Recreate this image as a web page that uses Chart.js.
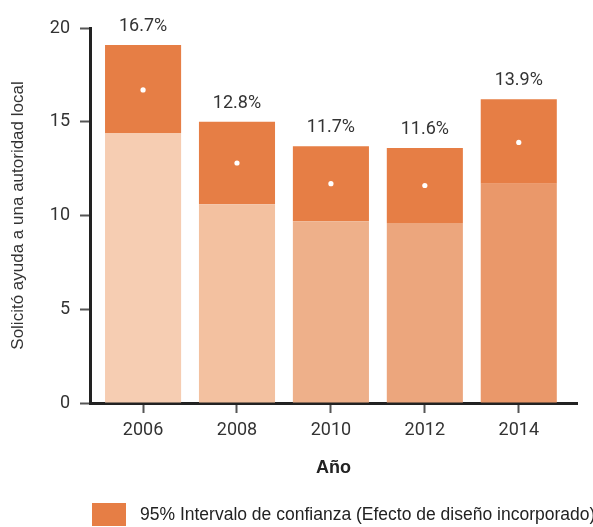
<!DOCTYPE html>
<html>
<head>
<meta charset="utf-8">
<script src="https://cdn.jsdelivr.net/npm/chart.js@4"></script>
<style>
  html, body { margin: 0; padding: 0; background: #fff; }
  #wrap { width: 593px; height: 527px; }
</style>
</head>
<body>
<div id="wrap"><canvas id="askedHelp"></canvas></div>
<script>
// Years and survey values (percent)
const years = [2006, 2008, 2010, 2012, 2014];
const estimate = [16.7, 12.8, 11.7, 11.6, 13.9];
const lowerCI = [14.4, 10.6, 9.7, 9.6, 11.7];
const upperCI = [19.1, 15.0, 13.7, 13.6, 16.2];
const yTicks = [0, 5, 10, 15, 20];

const lowerColors = ['#f6cdb2', '#f3c1a0', '#eeb08a', '#eca67d', '#ea986a'];
const ciColor = '#e67e45';
const tickFont = 'Roboto, "Liberation Sans", sans-serif';
const textColor = '#333333';

// percent labels above the bars + legend under the axis title
const extras = {
	id: 'extras',
	afterDraw(chart) {
		const ctx = chart.ctx;
		const x = chart.scales.x;
		const y = chart.scales.y;
		ctx.save();
		ctx.fillStyle = textColor;
		ctx.font = '18px ' + tickFont;
		ctx.textAlign = 'center';
		ctx.textBaseline = 'alphabetic';
		years.forEach(function (yr, i) {
			ctx.fillText(estimate[i].toFixed(1) + '%', x.getPixelForValue(yr), y.getPixelForValue(upperCI[i]) - 14);
		});
		ctx.fillStyle = ciColor;
		ctx.fillRect(92, 503, 34, 23);
		ctx.fillStyle = '#222';
		ctx.font = '17.5px "Liberation Sans", Arial, sans-serif';
		ctx.textAlign = 'left';
		ctx.fillText('95% Intervalo de confianza (Efecto de diseño incorporado)', 140, 520);
		ctx.restore();
	}
};

document.addEventListener('DOMContentLoaded', function () {
	const ctx = document.getElementById('askedHelp').getContext('2d');
	const askedHelpChart = new Chart(ctx, {
		type: 'bar',
		data: {
			datasets: [{
				type: 'scatter',
				label: 'Estimación',
				data: years.map((yr, i) => ({ x: yr, y: estimate[i] })),
				backgroundColor: '#ffffff',
				borderWidth: 0,
				pointRadius: 2.6,
				stack: 'dots',
				order: -1
			}, {
				label: 'Límite inferior',
				data: years.map((yr, i) => ({ x: yr, y: lowerCI[i] })),
				backgroundColor: lowerColors,
				barPercentage: 0.81,
				categoryPercentage: 1,
				stack: 'ci'
			}, {
				label: '95% Intervalo de confianza (Efecto de diseño incorporado)',
				data: years.map((yr, i) => ({ x: yr, y: upperCI[i] - lowerCI[i] })),
				backgroundColor: ciColor,
				barPercentage: 0.81,
				categoryPercentage: 1,
				stack: 'ci'
			}]
		},
		options: {
			responsive: true,
			maintainAspectRatio: false,
			animation: false,
			layout: {
				padding: { top: 28, right: 16, bottom: 40, left: 0 }
			},
			plugins: {
				legend: { display: false },
				tooltip: { enabled: false }
			},
			scales: {
				x: {
					type: 'linear',
					stacked: true,
					offset: false,
					min: 2004.87,
					max: 2015.24,
					afterBuildTicks: function (scale) {
						scale.ticks = years.map(v => ({ value: v }));
					},
					afterFit: function (scale) { scale.height = 84; },
					border: { display: true, color: '#222', width: 3 },
					grid: { offset: false, drawOnChartArea: false, drawTicks: true, tickLength: 10, tickWidth: 2, tickColor: '#555' },
					ticks: {
						autoSkip: false,
						maxRotation: 0,
						padding: 7,
						color: textColor,
						font: { family: tickFont, size: 18 },
						callback: v => String(v)
					},
					title: {
						display: true,
						text: 'Año',
						color: '#222',
						font: { family: '"Liberation Sans", Arial, sans-serif', size: 18, weight: 'bold' },
						padding: { top: 0, bottom: 8 }
					}
				},
				y: {
					stacked: true,
					min: 0,
					max: 20,
					afterBuildTicks: function (scale) {
						scale.ticks = yTicks.map(v => ({ value: v }));
					},
					afterFit: function (scale) { scale.width = 90; },
					border: { display: true, color: '#222', width: 3 },
					grid: { drawOnChartArea: false, drawTicks: true, tickLength: 10, tickWidth: 2, tickColor: '#555' },
					ticks: {
						padding: 10,
						color: textColor,
						font: { family: tickFont, size: 18 }
					},
					title: {
						display: true,
						text: 'Solicitó ayuda a una autoridad local',
						color: textColor,
						font: { family: '"Liberation Sans", Arial, sans-serif', size: 17 },
						padding: { top: 8, bottom: 0 }
					}
				}
			}
		},
		plugins: [extras]
	});
});
</script>
</body>
</html>
